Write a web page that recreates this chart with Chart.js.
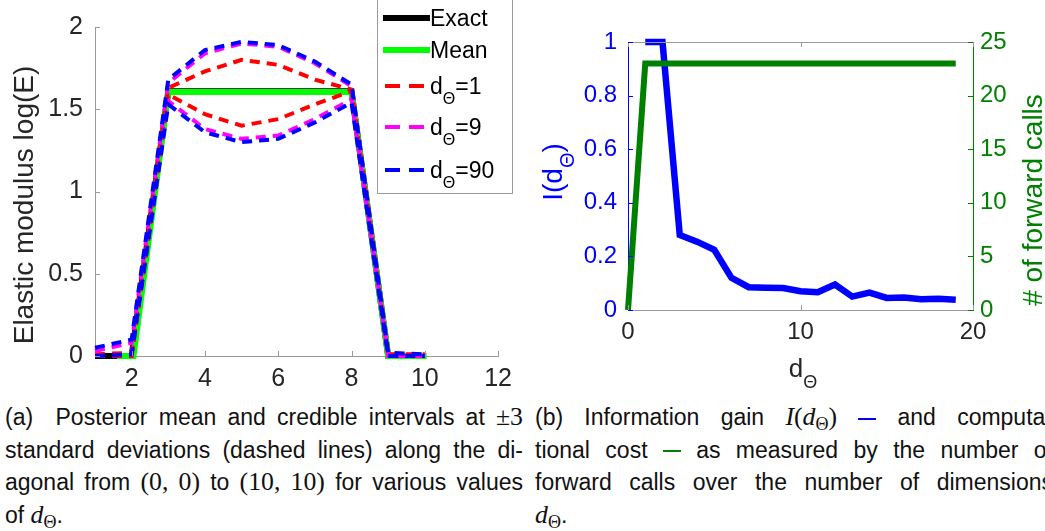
<!DOCTYPE html>
<html>
<head>
<meta charset="utf-8">
<script src="https://cdn.jsdelivr.net/npm/chart.js@4.4.0/dist/chart.umd.min.js"></script>
<style>
body { margin: 0; width: 1045px; height: 531px; overflow: hidden; background: #fff; font-family: "Liberation Sans", Arial, sans-serif; }
#boxA { position: absolute; left: 0; top: 0; }
#boxB { position: absolute; left: 520px; top: 0; }
.cap { position: absolute; top: 401px; width: 518px; font-size: 23px; line-height: 32.5px; color: #111; }
.cap div { white-space: nowrap; text-align: justify; text-align-last: justify; }
.cap div.last { text-align-last: left; }
.m { font-family: "Liberation Serif", serif; font-size: 112%; }
.mi { font-family: "Liberation Serif", serif; font-style: italic; font-size: 112%; }
sub { font-size: 70%; font-style: normal; vertical-align: -0.25em; line-height: 0; }
.rule { display: inline-block; width: 18px; height: 2px; vertical-align: middle; }
</style>
</head>
<body>
<div id="boxA"><canvas id="chartA" width="520" height="400"></canvas></div>
<div id="boxB"><canvas id="chartB" width="525" height="400"></canvas></div>

<div class="cap" style="left:5px">
<div>(a)&nbsp; Posterior mean and credible intervals at <span class="m">±3</span></div>
<div>standard deviations (dashed lines) along the di-</div>
<div>agonal from <span class="m">(0, 0)</span> to <span class="m">(10, 10)</span> for various values</div>
<div class="last">of <span class="mi">d<sub>Θ</sub></span>.</div>
</div>
<div class="cap" style="left:535px">
<div>(b) Information gain <span class="mi">I</span><span class="m">(</span><span class="mi">d<sub>Θ</sub></span><span class="m">)</span> <span class="rule" style="background:#0000ff"></span> and computa-</div>
<div>tional cost <span class="rule" style="background:#008000"></span> as measured by the number of</div>
<div>forward calls over the number of dimensions</div>
<div class="last"><span class="mi">d<sub>Θ</sub></span>.</div>
</div>

<script>
// ---- datos grafico (a)
var posX = [1, 2, 3, 4, 5, 6, 7, 8, 9, 10];
var exacto = [0, 0, 1.609, 1.609, 1.609, 1.609, 1.609, 1.609, 0, 0];
var mediaX = [1.6, 2.05, 3, 8, 9, 10.05];
var mediaY = [0, 0, 1.605, 1.605, 0, 0];
var d1Sup = [0.01, 0.02, 1.63, 1.73, 1.80, 1.77, 1.68, 1.62, 0.01, 0.01];
var d1Inf = [0.00, 0.00, 1.59, 1.47, 1.40, 1.44, 1.53, 1.61, 0.00, 0.00];
var d9Sup = [0.03, 0.08, 1.66, 1.84, 1.90, 1.88, 1.78, 1.64, 0.01, 0.01];
var d9Inf = [0.00, 0.01, 1.55, 1.38, 1.32, 1.34, 1.44, 1.56, 0.00, 0.00];
var d90Sup = [0.05, 0.10, 1.68, 1.86, 1.91, 1.89, 1.79, 1.65, 0.02, 0.01];
var d90Inf = [0.00, 0.01, 1.53, 1.36, 1.30, 1.32, 1.42, 1.54, 0.00, 0.00];
var ticksXA = [2, 4, 6, 8, 10, 12];
var ticksYA = [0, 0.5, 1, 1.5, 2];

// ---- datos grafico (b)
var dTheta = [0, 1, 2, 3, 4, 5, 6, 7, 8, 9, 10, 11, 12, 13, 14, 15, 16, 17, 18, 19];
var ganancia = [null, 1.0, 1.0, 0.28, 0.255, 0.225, 0.12, 0.085, 0.083, 0.082, 0.07, 0.066, 0.095, 0.05, 0.065, 0.045, 0.047, 0.04, 0.042, 0.038];
var llamadas = [0, 23, 23, 23, 23, 23, 23, 23, 23, 23, 23, 23, 23, 23, 23, 23, 23, 23, 23, 23];
var ticksXB = [0, 10, 20];
var ticksYB = [0, 0.2, 0.4, 0.6, 0.8, 1];
var ticksY2B = [0, 5, 10, 15, 20, 25];

var fuente = '"Liberation Sans", Arial, sans-serif';
var gris = '#9a9a9a';
var texto = '#262626';
var verde = '#008000';

function puntos(xs, ys) {
    return xs.map(function (x, i) { return { x: x, y: ys[i] }; });
}

function fijarTicks(lista) {
    return function (scale) {
        scale.ticks = lista.map(function (v) { return { value: v }; });
    };
}

function etiqueta(v) {
    return String(v);
}

// text with subscripts: partes = [[texto, esSub], ...]
function textoSub(ctx, partes, x, y, size, centrado) {
    var total = 0;
    partes.forEach(function (p) {
        ctx.font = (p[1] ? Math.round(size * 0.7) : size) + 'px ' + fuente;
        total += ctx.measureText(p[0]).width;
    });
    var cx = centrado ? x - total / 2 : x;
    partes.forEach(function (p) {
        ctx.font = (p[1] ? Math.round(size * 0.7) : size) + 'px ' + fuente;
        ctx.fillText(p[0], cx, p[1] ? y + size * 0.42 : y);
        cx += ctx.measureText(p[0]).width;
    });
}

function marcasX(ctx, chart, scale, lista, color, arriba) {
    var a = chart.chartArea;
    ctx.strokeStyle = color;
    ctx.lineWidth = 1;
    lista.forEach(function (v) {
        var px = Math.round(scale.getPixelForValue(v)) + 0.5;
        ctx.beginPath(); ctx.moveTo(px, a.bottom); ctx.lineTo(px, a.bottom - 5); ctx.stroke();
        if (arriba) { ctx.beginPath(); ctx.moveTo(px, a.top); ctx.lineTo(px, a.top + 5); ctx.stroke(); }
    });
}

function marcasY(ctx, scale, lista, color, xEje, dir) {
    ctx.strokeStyle = color;
    ctx.lineWidth = 1;
    lista.forEach(function (v) {
        var py = Math.round(scale.getPixelForValue(v)) + 0.5;
        ctx.beginPath(); ctx.moveTo(xEje, py); ctx.lineTo(xEje + dir * 5, py); ctx.stroke();
    });
}

function linea(label, xs, ys, color, ancho, guiones, orden) {
    return {
        label: label,
        data: puntos(xs, ys),
        borderColor: color,
        borderWidth: ancho,
        borderDash: guiones,
        pointRadius: 0,
        fill: false,
        tension: 0,
        clip: false,
        order: orden
    };
}

var leyendaA = [
    { partes: [['Exact', false]], color: '#000000', dash: [], ancho: 6, y: 18 },
    { partes: [['Mean', false]], color: '#00ff00', dash: [], ancho: 6, y: 50 },
    { partes: [['d', false], ['Θ', true], ['=1', false]], color: '#ff0000', dash: [15, 9], ancho: 4, y: 86 },
    { partes: [['d', false], ['Θ', true], ['=9', false]], color: '#ff00ff', dash: [15, 9], ancho: 4, y: 127 },
    { partes: [['d', false], ['Θ', true], ['=90', false]], color: '#0000ff', dash: [15, 9], ancho: 4, y: 170 }
];

var dibujoA = {
    id: 'dibujoA',
    afterDraw: function (chart) {
        var ctx = chart.ctx;
        var a = chart.chartArea;
        ctx.save();
        marcasX(ctx, chart, chart.scales.x, ticksXA, gris, false);
        marcasY(ctx, chart.scales.y, ticksYA, gris, a.left, 1);

        // axis title
        ctx.fillStyle = texto;
        ctx.textBaseline = 'alphabetic';
        ctx.translate(33, 205);
        ctx.rotate(-Math.PI / 2);
        textoSub(ctx, [['Elastic modulus log(E)', false]], 0, 0, 28, true);
        ctx.setTransform(1, 0, 0, 1, 0, 0);

        // legend
        ctx.fillStyle = '#ffffff';
        ctx.fillRect(377, -1, 136, 195);
        ctx.strokeStyle = gris;
        ctx.lineWidth = 1;
        ctx.strokeRect(377.5, -1.5, 135, 195);
        leyendaA.forEach(function (e) {
            ctx.strokeStyle = e.color;
            ctx.lineWidth = e.ancho;
            ctx.setLineDash(e.dash);
            ctx.beginPath();
            ctx.moveTo(e.dash.length ? 385 : 383, e.y);
            ctx.lineTo(e.dash.length ? 424 : 430, e.y);
            ctx.stroke();
            ctx.setLineDash([]);
            ctx.fillStyle = '#000000';
            textoSub(ctx, e.partes, 430, e.y + 8, 23, false);
        });
        ctx.restore();
    }
};

// order bajo = dibujado encima
new Chart(document.getElementById('chartA').getContext('2d'), {
    type: 'line',
    data: {
        datasets: [
            linea('Exact', posX, exacto, '#000000', 6, [], 5),
            linea('Mean', mediaX, mediaY, '#00ff00', 6, [], 4),
            linea('d1 sup', posX, d1Sup, '#ff0000', 4, [10, 7], 3),
            linea('d1 inf', posX, d1Inf, '#ff0000', 4, [10, 7], 3),
            linea('d9 sup', posX, d9Sup, '#ff00ff', 4, [10, 7], 2),
            linea('d9 inf', posX, d9Inf, '#ff00ff', 4, [10, 7], 2),
            linea('d90 sup', posX, d90Sup, '#0000ff', 4, [10, 7], 1),
            linea('d90 inf', posX, d90Inf, '#0000ff', 4, [10, 7], 1)
        ]
    },
    options: {
        responsive: false,
        animation: false,
        layout: { padding: { top: 20, right: 17, left: 0, bottom: 0 } },
        plugins: { legend: { display: false }, tooltip: { enabled: false } },
        scales: {
            x: {
                type: 'linear', min: 1, max: 12,
                afterBuildTicks: fijarTicks(ticksXA),
                afterFit: function (s) { s.height = 44; },
                grid: { display: false, drawTicks: false },
                border: { color: gris },
                ticks: { color: texto, font: { size: 25, family: fuente }, padding: 8, maxRotation: 0, callback: etiqueta }
            },
            y: {
                min: 0, max: 2,
                afterBuildTicks: fijarTicks(ticksYA),
                afterFit: function (s) { s.width = 95; },
                grid: { display: false, drawTicks: false },
                border: { color: gris },
                ticks: { color: texto, font: { size: 25, family: fuente }, padding: 12, callback: etiqueta }
            }
        }
    },
    plugins: [dibujoA]
});

var dibujoB = {
    id: 'dibujoB',
    afterDraw: function (chart) {
        var ctx = chart.ctx;
        var a = chart.chartArea;
        ctx.save();
        // top box line
        ctx.strokeStyle = gris;
        ctx.lineWidth = 1;
        ctx.beginPath(); ctx.moveTo(a.left, a.top + 0.5); ctx.lineTo(a.right, a.top + 0.5); ctx.stroke();
        marcasX(ctx, chart, chart.scales.x, ticksXB, gris, true);
        marcasY(ctx, chart.scales.y, ticksYB, '#0000ff', a.left, 1);
        marcasY(ctx, chart.scales.y2, ticksY2B, verde, a.right, -1);

        ctx.textBaseline = 'alphabetic';
        // x title
        ctx.fillStyle = texto;
        textoSub(ctx, [['d', false], ['Θ', true]], 283, 377, 26, true);
        // left title
        ctx.fillStyle = '#0000ff';
        ctx.translate(42, 172);
        ctx.rotate(-Math.PI / 2);
        textoSub(ctx, [['I(d', false], ['Θ', true], [')', false]], 0, 0, 28, true);
        ctx.setTransform(1, 0, 0, 1, 0, 0);
        // right title
        ctx.fillStyle = verde;
        ctx.translate(522, 200);
        ctx.rotate(-Math.PI / 2);
        textoSub(ctx, [['# of forward calls', false]], 0, 0, 28, true);
        ctx.restore();
    }
};

new Chart(document.getElementById('chartB').getContext('2d'), {
    type: 'line',
    data: {
        datasets: [
            {
                label: 'I(d)', data: puntos(dTheta, ganancia), yAxisID: 'y',
                borderColor: '#0000ff', borderWidth: 6.5, pointRadius: 0, tension: 0, fill: false, clip: false, order: 2
            },
            {
                label: 'forward calls', data: puntos(dTheta, llamadas), yAxisID: 'y2',
                borderColor: verde, borderWidth: 6, pointRadius: 0, tension: 0, fill: false, clip: false, order: 1
            }
        ]
    },
    options: {
        responsive: false,
        animation: false,
        layout: { padding: { top: 42, right: 0, left: 0, bottom: 0 } },
        plugins: { legend: { display: false }, tooltip: { enabled: false } },
        scales: {
            x: {
                type: 'linear', min: 0, max: 20,
                afterBuildTicks: fijarTicks(ticksXB),
                afterFit: function (s) { s.height = 90; },
                grid: { display: false, drawTicks: false },
                border: { color: gris },
                ticks: { color: texto, font: { size: 24, family: fuente }, padding: 8, maxRotation: 0, callback: etiqueta }
            },
            y: {
                position: 'left', min: 0, max: 1,
                afterBuildTicks: fijarTicks(ticksYB),
                afterFit: function (s) { s.width = 108; },
                grid: { display: false, drawTicks: false },
                border: { color: '#0000ff' },
                ticks: { color: '#0000ff', font: { size: 24, family: fuente }, padding: 11, callback: etiqueta }
            },
            y2: {
                position: 'right', min: 0, max: 25,
                afterBuildTicks: fijarTicks(ticksY2B),
                afterFit: function (s) { s.width = 72; },
                grid: { display: false, drawTicks: false },
                border: { color: verde },
                ticks: { color: verde, font: { size: 24, family: fuente }, padding: 7, callback: etiqueta }
            }
        }
    },
    plugins: [dibujoB]
});
</script>
</body>
</html>
